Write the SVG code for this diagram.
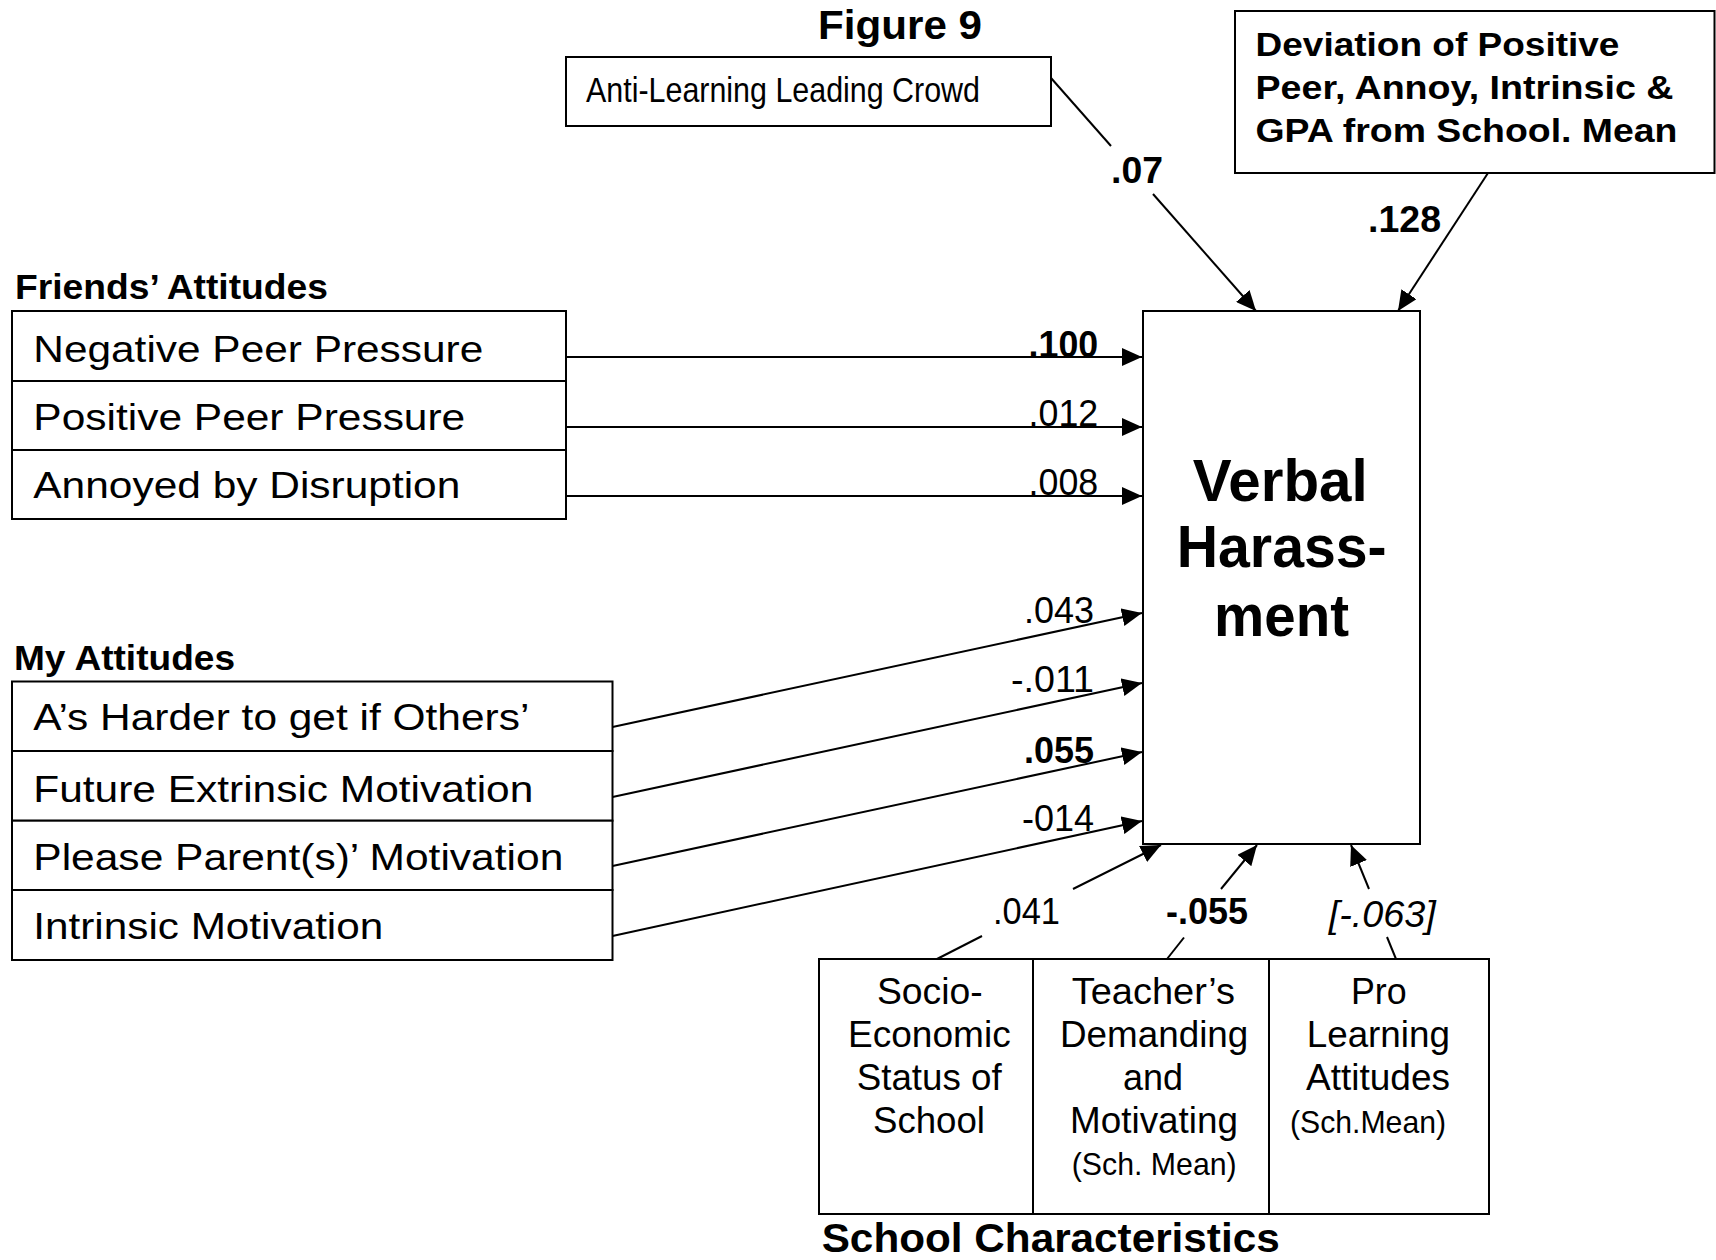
<svg xmlns="http://www.w3.org/2000/svg" width="1716" height="1260" viewBox="0 0 1716 1260">
<defs>
<marker id="ah" viewBox="0 0 20 18" refX="20" refY="9" markerWidth="20" markerHeight="18" markerUnits="userSpaceOnUse" orient="auto"><path d="M0,0 L20,9 L0,18 z" fill="#000"/></marker>
<style>
text{font-family:"Liberation Sans",Arial,Helvetica,sans-serif;fill:#000}
.box{fill:#fff;stroke:#000;stroke-width:2}
.ln{stroke:#000;stroke-width:2;fill:none}
.arr{stroke:#000;stroke-width:2;fill:none;marker-end:url(#ah)}
.row{font-size:37px}
.hd{font-size:35px;font-weight:bold}
.lab{font-size:36px}
.b{font-weight:bold}
.sc{font-size:36px}
.sm{font-size:32px}
.dv{font-size:34px;font-weight:bold}
</style>
</defs>
<rect width="1716" height="1260" fill="#fff"/>

<text x="818" y="39" font-size="40" font-weight="bold" textLength="164" lengthAdjust="spacingAndGlyphs">Figure 9</text>

<g id="anti-learning">
<rect class="box" x="566" y="57" width="485" height="69"/>
<text x="586" y="101.5" font-size="35" textLength="394" lengthAdjust="spacingAndGlyphs">Anti-Learning Leading Crowd</text>
</g>

<g id="deviation">
<rect class="box" x="1235" y="11" width="479.5" height="162"/>
<text class="dv" transform="translate(1255.5,56) scale(1.08,1)" textLength="337" lengthAdjust="spacingAndGlyphs">Deviation of Positive</text>
<text class="dv" transform="translate(1255.5,99) scale(1.08,1)" textLength="387" lengthAdjust="spacingAndGlyphs">Peer, Annoy, Intrinsic &amp;</text>
<text class="dv" transform="translate(1255.5,142) scale(1.08,1)" textLength="390.7" lengthAdjust="spacingAndGlyphs">GPA from School. Mean</text>
</g>

<g id="verbal-harassment">
<rect class="box" x="1143" y="311" width="277" height="533"/>
<text x="1192.7" y="501" font-size="60" font-weight="bold" textLength="175" lengthAdjust="spacingAndGlyphs">Verbal</text>
<text x="1176.7" y="567" font-size="60" font-weight="bold" textLength="210" lengthAdjust="spacingAndGlyphs">Harass-</text>
<text x="1214" y="635.5" font-size="60" font-weight="bold" textLength="135" lengthAdjust="spacingAndGlyphs">ment</text>
</g>

<g id="friends-attitudes">
<text class="hd" x="15" y="299" textLength="313" lengthAdjust="spacingAndGlyphs">Friends’ Attitudes</text>
<g id="negative-peer-pressure">
<rect class="box" x="12" y="311" width="554" height="70"/>
<text class="row" transform="translate(33.3,361.7) scale(1.14,1)" textLength="394.7" lengthAdjust="spacingAndGlyphs">Negative Peer Pressure</text>
</g>
<g id="positive-peer-pressure">
<rect class="box" x="12" y="381" width="554" height="69"/>
<text class="row" transform="translate(33.3,429.5) scale(1.14,1)" textLength="378.9" lengthAdjust="spacingAndGlyphs">Positive Peer Pressure</text>
</g>
<g id="annoyed-by-disruption">
<rect class="box" x="12" y="450" width="554" height="69"/>
<text class="row" transform="translate(33.3,498) scale(1.14,1)" textLength="374.6" lengthAdjust="spacingAndGlyphs">Annoyed by Disruption</text>
</g>
</g>

<g id="my-attitudes">
<text class="hd" x="14" y="670" textLength="221" lengthAdjust="spacingAndGlyphs">My Attitudes</text>
<g id="as-harder">
<rect class="box" x="12" y="681.5" width="600.5" height="69.5"/>
<text class="row" transform="translate(33.3,730) scale(1.14,1)" textLength="435.1" lengthAdjust="spacingAndGlyphs">A’s Harder to get if Others’</text>
</g>
<g id="future-extrinsic">
<rect class="box" x="12" y="751" width="600.5" height="69.7"/>
<text class="row" transform="translate(33.3,801.7) scale(1.14,1)" textLength="438.6" lengthAdjust="spacingAndGlyphs">Future Extrinsic Motivation</text>
</g>
<g id="please-parents">
<rect class="box" x="12" y="820.7" width="600.5" height="69.3"/>
<text class="row" transform="translate(33.3,870) scale(1.14,1)" textLength="464.9" lengthAdjust="spacingAndGlyphs">Please Parent(s)’ Motivation</text>
</g>
<g id="intrinsic">
<rect class="box" x="12" y="890" width="600.5" height="70"/>
<text class="row" transform="translate(33.3,938.5) scale(1.14,1)" textLength="307" lengthAdjust="spacingAndGlyphs">Intrinsic Motivation</text>
</g>
</g>

<g id="school-characteristics">
<g id="ses">
<rect class="box" x="819" y="959" width="214" height="255"/>
<text class="sc" x="877" y="1004" textLength="105.7" lengthAdjust="spacingAndGlyphs">Socio-</text>
<text class="sc" x="848" y="1046.7" textLength="162.7" lengthAdjust="spacingAndGlyphs">Economic</text>
<text class="sc" x="856.7" y="1090" textLength="145" lengthAdjust="spacingAndGlyphs">Status of</text>
<text class="sc" x="873" y="1132.7" textLength="112" lengthAdjust="spacingAndGlyphs">School</text>
</g>
<g id="teacher">
<rect class="box" x="1033" y="959" width="236" height="255"/>
<text class="sc" x="1071.7" y="1004" textLength="163.3" lengthAdjust="spacingAndGlyphs">Teacher’s</text>
<text class="sc" x="1060" y="1046.7" textLength="188.3" lengthAdjust="spacingAndGlyphs">Demanding</text>
<text class="sc" x="1123" y="1090" textLength="60" lengthAdjust="spacingAndGlyphs">and</text>
<text class="sc" x="1070" y="1132.7" textLength="168" lengthAdjust="spacingAndGlyphs">Motivating</text>
<text class="sm" x="1071.7" y="1175" textLength="165" lengthAdjust="spacingAndGlyphs">(Sch. Mean)</text>
</g>
<g id="pro-learning">
<rect class="box" x="1269" y="959" width="220" height="255"/>
<text class="sc" x="1351" y="1004" textLength="55.7" lengthAdjust="spacingAndGlyphs">Pro</text>
<text class="sc" x="1306.7" y="1046.7" textLength="143.3" lengthAdjust="spacingAndGlyphs">Learning</text>
<text class="sc" x="1306" y="1090" textLength="144" lengthAdjust="spacingAndGlyphs">Attitudes</text>
<text class="sm" x="1290" y="1132.7" textLength="156" lengthAdjust="spacingAndGlyphs">(Sch.Mean)</text>
</g>
<text x="821.7" y="1251.7" font-size="40" font-weight="bold" textLength="458" lengthAdjust="spacingAndGlyphs">School Characteristics</text>
</g>

<g id="connectors">
<line class="ln" x1="1051" y1="78" x2="1111" y2="146"/>
<line class="arr" x1="1153" y1="194" x2="1256" y2="311"/>
<text class="lab b" x="1111" y="183" textLength="52" lengthAdjust="spacingAndGlyphs">.07</text>

<line class="arr" x1="1488" y1="173" x2="1398" y2="311"/>
<text class="lab b" x="1368" y="232" textLength="73" lengthAdjust="spacingAndGlyphs">.128</text>

<line class="arr" x1="566" y1="357" x2="1142" y2="357"/>
<line class="arr" x1="566" y1="427" x2="1142" y2="427"/>
<line class="arr" x1="566" y1="496" x2="1142" y2="496"/>
<text class="lab b" x="1028.6" y="356.5" textLength="69.6" lengthAdjust="spacingAndGlyphs">.100</text>
<text class="lab" x="1028.6" y="425.5" textLength="69.6" lengthAdjust="spacingAndGlyphs">.012</text>
<text class="lab" x="1028.6" y="495" textLength="69.6" lengthAdjust="spacingAndGlyphs">.008</text>

<line class="arr" x1="612.5" y1="727" x2="1142" y2="613"/>
<line class="arr" x1="612.5" y1="797" x2="1142" y2="683"/>
<line class="arr" x1="612.5" y1="866" x2="1142" y2="752"/>
<line class="arr" x1="612.5" y1="936" x2="1142" y2="821"/>
<text class="lab" x="1024" y="623.3" textLength="70" lengthAdjust="spacingAndGlyphs">.043</text>
<text class="lab" x="1011" y="691.7" textLength="83" lengthAdjust="spacingAndGlyphs">-.011</text>
<text class="lab b" x="1024" y="762.7" textLength="70" lengthAdjust="spacingAndGlyphs">.055</text>
<text class="lab" x="1022" y="830.7" textLength="72" lengthAdjust="spacingAndGlyphs">-014</text>

<line class="ln" x1="937" y1="959" x2="982" y2="936"/>
<line class="arr" x1="1073" y1="889" x2="1161" y2="845"/>
<text class="lab" x="993" y="924.3" textLength="67" lengthAdjust="spacingAndGlyphs">.041</text>

<line class="ln" x1="1167" y1="959" x2="1184" y2="937.5"/>
<line class="arr" x1="1221" y1="889" x2="1257" y2="845"/>
<text class="lab b" x="1166" y="924.3" textLength="82" lengthAdjust="spacingAndGlyphs">-.055</text>

<line class="ln" x1="1396" y1="959" x2="1387" y2="937"/>
<line class="arr" x1="1369" y1="889" x2="1351" y2="845"/>
<text class="lab" x="1328.7" y="926.7" font-style="italic" textLength="107" lengthAdjust="spacingAndGlyphs">[-.063]</text>
</g>
</svg>
